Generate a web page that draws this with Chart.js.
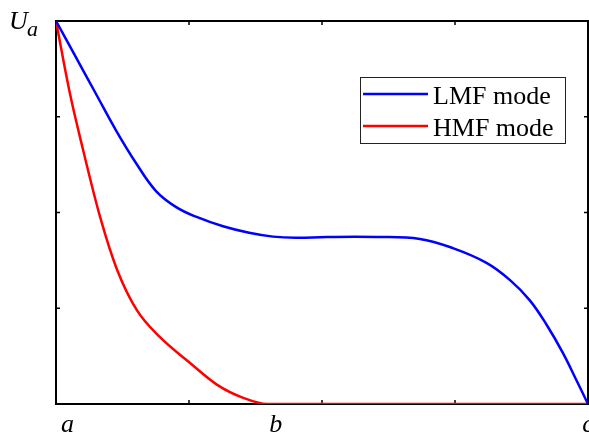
<!DOCTYPE html>
<html>
<head>
<meta charset="utf-8">
<script src="https://cdn.jsdelivr.net/npm/chart.js@4.4.1/dist/chart.umd.min.js"></script>
<style>
  html, body { margin: 0; padding: 0; background: #fff; }
  #wrap { width: 589px; height: 435px; }
</style>
</head>
<body>
<div id="wrap"><canvas id="chart" width="589" height="435"></canvas></div>
<script>
// Series (x from a=0 to c=1, y as a fraction of U_a)
const lmfX = [0, 0.034, 0.075, 0.113, 0.150, 0.188, 0.226, 0.263, 0.314, 0.363, 0.408, 0.451, 0.509, 0.603, 0.684, 0.746, 0.810, 0.853, 0.891, 0.923, 0.953, 0.979, 1.0];
const lmfY = [1, 0.914, 0.810, 0.714, 0.630, 0.556, 0.514, 0.489, 0.464, 0.447, 0.437, 0.434, 0.436, 0.436, 0.431, 0.407, 0.368, 0.324, 0.270, 0.205, 0.133, 0.060, 0.0];

const hmfX = [0, 0.026, 0.051, 0.083, 0.115, 0.152, 0.195, 0.252, 0.303, 0.352, 0.397, 0.5, 0.75, 1.0];
const hmfY = [1, 0.812, 0.663, 0.488, 0.350, 0.245, 0.175, 0.107, 0.050, 0.016, 0, 0, 0, 0];

const seriesNames = ['LMF mode', 'HMF mode'];
const xTickLabels = ['a', 'b', 'c'];
const xTickValues = [0, 0.4, 1];
const yAxisLabel = 'U';
const yAxisSub = 'a';

const serif = '"Liberation Serif", "Times New Roman", serif';

function toPoints(xs, ys) {
    return xs.map((x, i) => ({ x: x, y: ys[i] }));
}

// Box frame with inward tick marks on all four sides
const boxPlugin = {
    id: 'boxFrame',
    beforeDatasetsDraw(chart) {
        const { ctx, chartArea: a, scales } = chart;
        ctx.save();
        ctx.strokeStyle = '#000';
        ctx.lineWidth = 1.5;
        const tl = 4;
        scales.x.ticks.forEach(t => {
            const px = scales.x.getPixelForValue(t.value);
            ctx.beginPath();
            ctx.moveTo(px, a.bottom); ctx.lineTo(px, a.bottom - tl);
            ctx.moveTo(px, a.top); ctx.lineTo(px, a.top + tl);
            ctx.stroke();
        });
        scales.y.ticks.forEach(t => {
            const py = scales.y.getPixelForValue(t.value);
            ctx.beginPath();
            ctx.moveTo(a.left, py); ctx.lineTo(a.left + tl, py);
            ctx.moveTo(a.right, py); ctx.lineTo(a.right - tl, py);
            ctx.stroke();
        });
        ctx.lineWidth = 2;
        ctx.strokeRect(a.left, a.top, a.right - a.left, a.bottom - a.top);
        ctx.restore();
    },
    afterDatasetsDraw(chart) {
        const { ctx, chartArea: a, scales } = chart;
        ctx.save();
        // y label U_a at the top tick
        const yTop = scales.y.getPixelForValue(1);
        ctx.fillStyle = '#000';
        ctx.textBaseline = 'alphabetic';
        ctx.font = 'italic 26px ' + serif;
        ctx.fillText(yAxisLabel, 9, yTop + 8);
        ctx.font = 'italic 22px ' + serif;
        ctx.fillText(yAxisSub, 27, yTop + 15);

        // legend box
        const bx = a.right - 228, by = a.top + 56, bw = 205, bh = 66;
        ctx.fillStyle = '#fff';
        ctx.fillRect(bx, by, bw, bh);
        ctx.strokeStyle = '#222';
        ctx.lineWidth = 1;
        ctx.strokeRect(bx + 0.5, by + 0.5, bw, bh);
        ctx.font = '26px ' + serif;
        chart.data.datasets.forEach((ds, i) => {
            const ly = by + 17 + i * 32;
            ctx.strokeStyle = ds.borderColor;
            ctx.lineWidth = 2.5;
            ctx.beginPath();
            ctx.moveTo(bx + 3, ly);
            ctx.lineTo(bx + 68, ly);
            ctx.stroke();
            ctx.fillStyle = '#000';
            ctx.fillText(ds.label, bx + 73, ly + 10);
        });
        ctx.restore();
    }
};

new Chart(document.getElementById('chart'), {
    type: 'line',
    data: {
        datasets: [
            {
                label: seriesNames[0],
                data: toPoints(lmfX, lmfY),
                borderColor: '#0000ff',
                borderWidth: 2.5,
                pointRadius: 0,
                tension: 0.4,
                fill: false
            },
            {
                label: seriesNames[1],
                data: toPoints(hmfX, hmfY),
                borderColor: '#ff0000',
                borderWidth: 2.5,
                pointRadius: 0,
                cubicInterpolationMode: 'monotone',
                fill: false
            }
        ]
    },
    options: {
        responsive: false,
        animation: false,
        layout: { padding: { left: 56, top: 21, right: 1, bottom: 0 } },
        plugins: {
            legend: { display: false },
            tooltip: { enabled: false }
        },
        scales: {
            x: {
                type: 'linear',
                min: 0,
                max: 1,
                display: false,
                ticks: { stepSize: 0.25 }
            },
            xl: {
                type: 'linear',
                position: 'bottom',
                min: -0.022,
                max: 1,
                grid: { display: false },
                border: { display: false },
                afterBuildTicks: scale => {
                    scale.ticks = xTickValues.map(v => ({ value: v }));
                },
                afterFit: scale => {
                    scale.height = 31;
                    scale.paddingLeft = 0;
                    scale.paddingRight = 0;
                },
                ticks: {
                    padding: 0,
                    color: '#000',
                    maxRotation: 0,
                    autoSkip: false,
                    font: { family: serif, size: 26, style: 'italic', lineHeight: 1 },
                    callback: function (value) {
                        const i = xTickValues.indexOf(value);
                        return i >= 0 ? xTickLabels[i] : '';
                    }
                }
            },
            y: {
                type: 'linear',
                min: 0,
                max: 1,
                display: false,
                ticks: { stepSize: 0.25 }
            }
        }
    },
    plugins: [boxPlugin]
});
</script>
</body>
</html>
